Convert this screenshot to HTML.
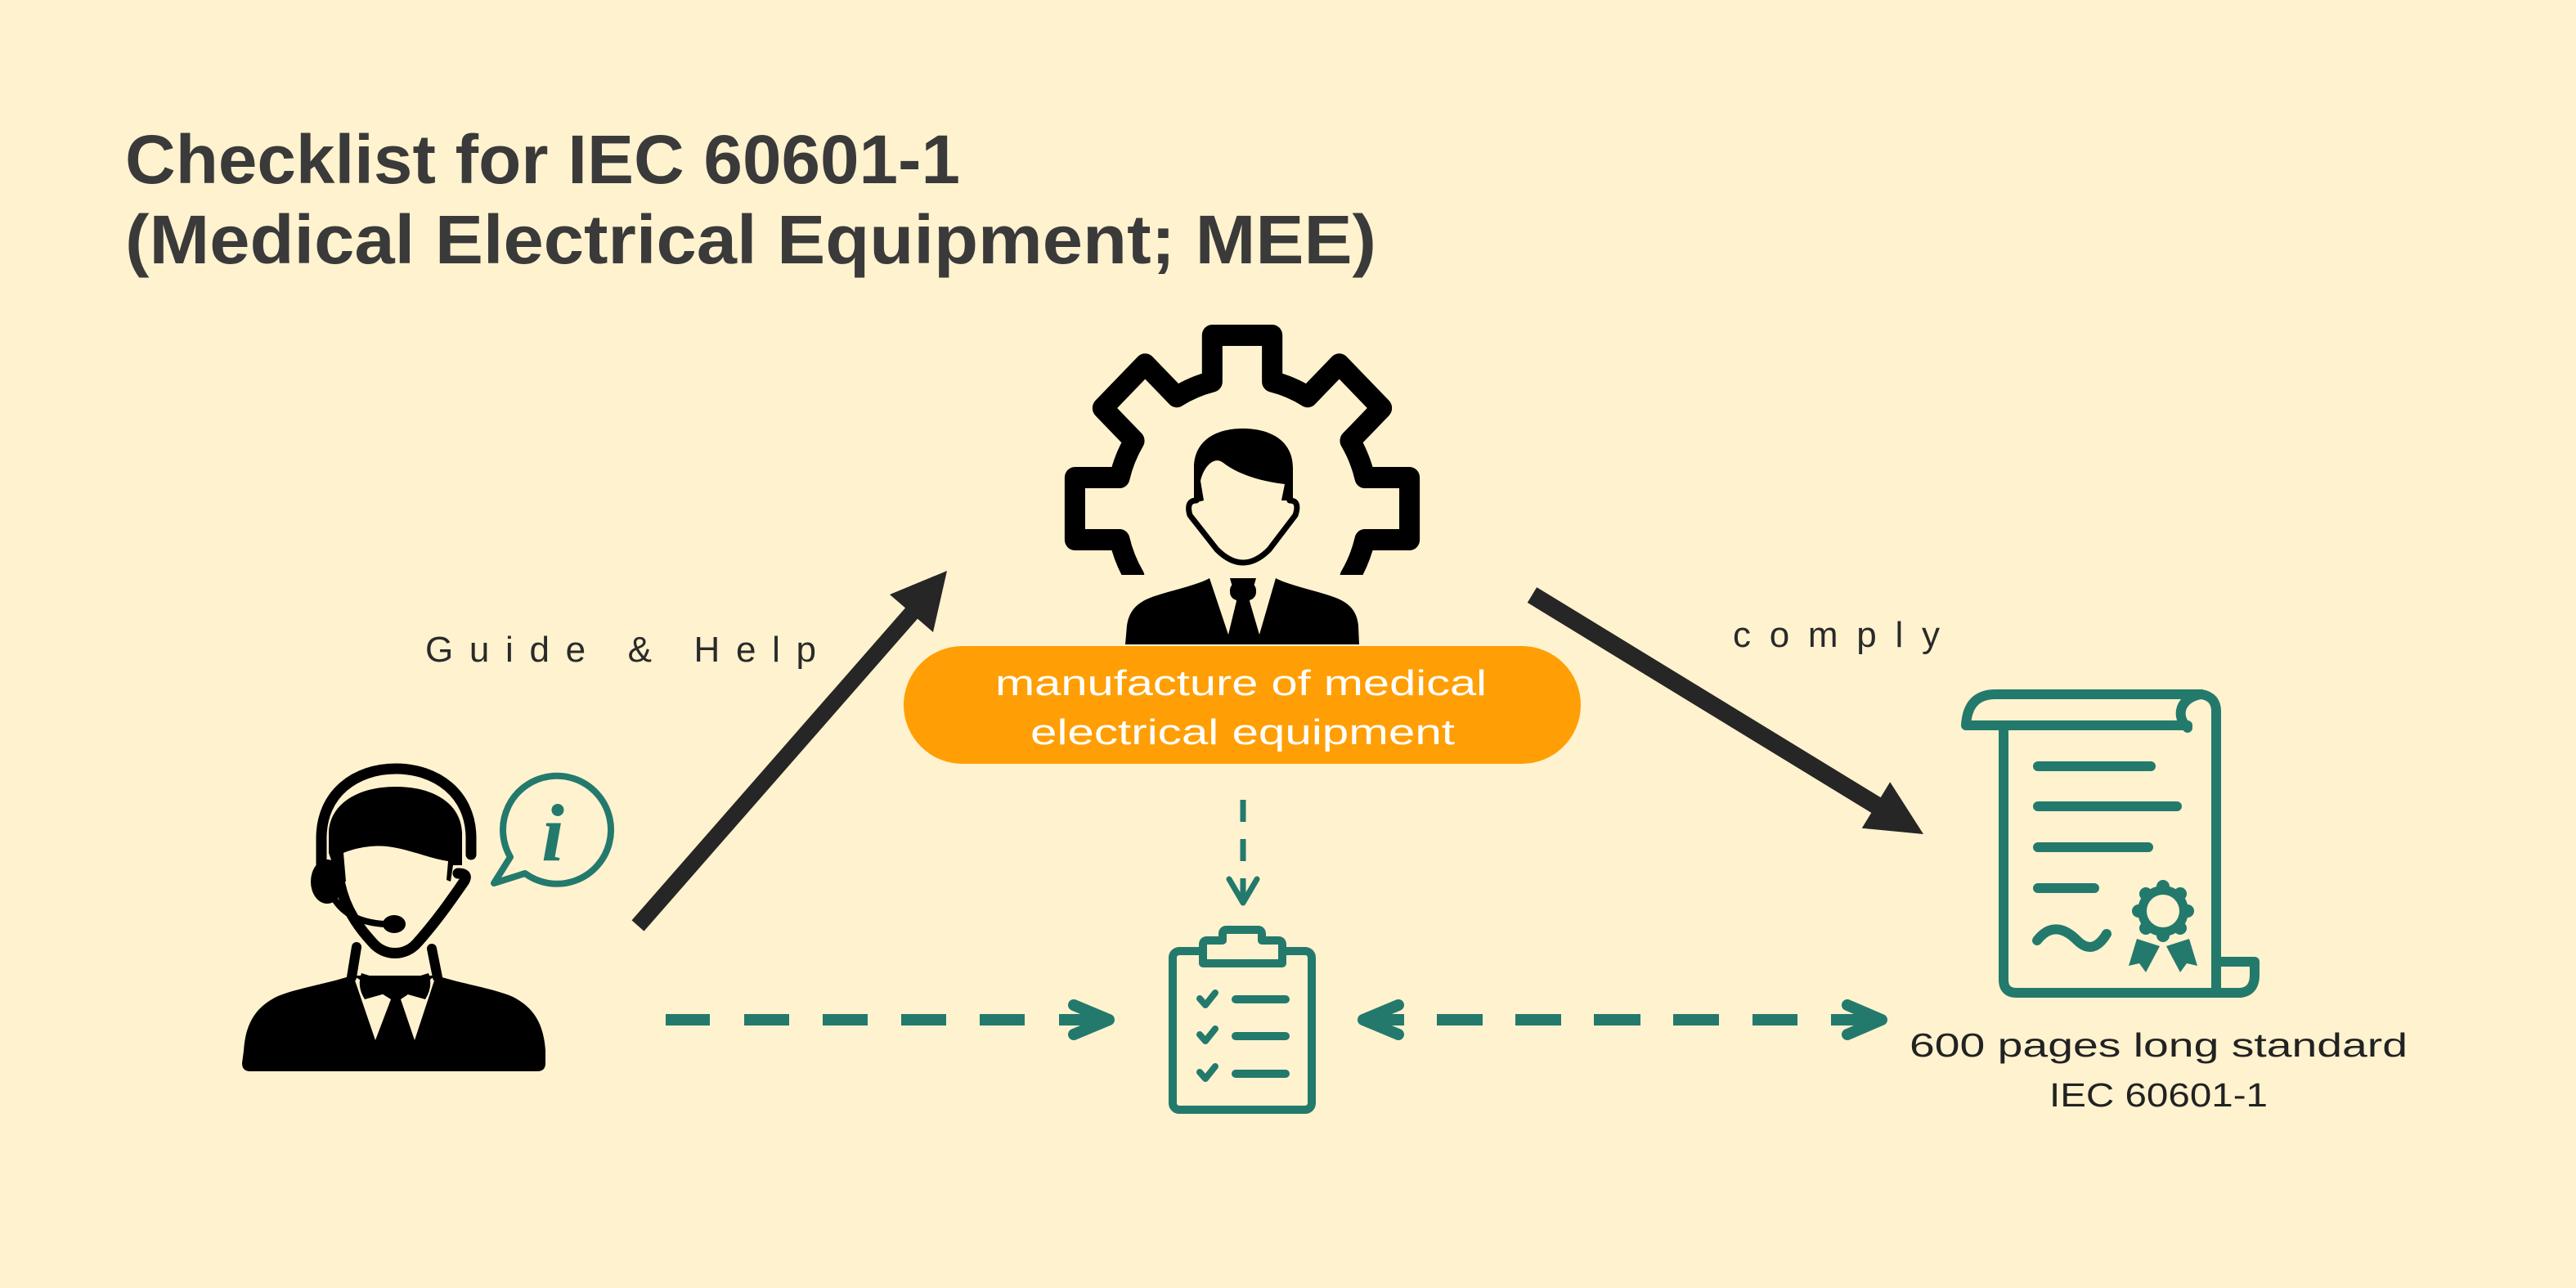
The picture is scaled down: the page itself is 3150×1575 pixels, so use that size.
<!DOCTYPE html>
<html>
<head>
<meta charset="utf-8">
<style>
html,body{margin:0;padding:0;background:#FFF2CF;}
body{width:3150px;height:1575px;overflow:hidden;}
svg{display:block;}
text{font-family:"Liberation Sans",sans-serif;}
</style>
</head>
<body>
<svg width="3150" height="1575" viewBox="0 0 3150 1575" xmlns="http://www.w3.org/2000/svg">
<defs>
<clipPath id="gearclip"><rect x="1200" y="300" width="700" height="403"/></clipPath>
</defs>
<rect x="0" y="0" width="3150" height="1575" fill="#FFF2CF"/>

<!-- Title -->
<text x="153" y="224" font-size="84" font-weight="bold" fill="#3A3A3A" textLength="1021" lengthAdjust="spacingAndGlyphs">Checklist for IEC 60601-1</text>
<text x="153" y="322" font-size="84" font-weight="bold" fill="#3A3A3A" textLength="1530" lengthAdjust="spacingAndGlyphs">(Medical Electrical Equipment; MEE)</text>

<!-- Gear -->
<g clip-path="url(#gearclip)">
<g transform="translate(1519,0) scale(0.965,1) translate(-1519,0)">
<path d="M 1481 466.6 L 1481 410 L 1557 410 L 1557 466.6 A 160 160 0 0 1 1602 485.2 L 1642 445.2 L 1695.8 499 L 1655.8 539 A 160 160 0 0 1 1674.4 584 L 1731 584 L 1731 660 L 1674.4 660 A 160 160 0 0 1 1655.8 705 L 1695.8 745 L 1642 798.8 L 1602 758.8 A 160 160 0 0 1 1557 777.4 L 1557 834 L 1481 834 L 1481 777.4 A 160 160 0 0 1 1436 758.8 L 1396 798.8 L 1342.2 745 L 1382.2 705 A 160 160 0 0 1 1363.6 660 L 1307 660 L 1307 584 L 1363.6 584 A 160 160 0 0 1 1382.2 539 L 1342.2 499 L 1396 445.2 L 1436 485.2 A 160 160 0 0 1 1481 466.6 Z" fill="none" stroke="#000" stroke-width="26" stroke-linejoin="round"/>
</g>
</g>

<!-- Center person -->
<path d="M 1463 612 Q 1450 612 1455 630 L 1488 672 Q 1520 704 1552 672 L 1584 630 Q 1590 612 1577 612" fill="none" stroke="#000" stroke-width="7" stroke-linejoin="round" stroke-linecap="round"/>
<path d="M 1460 615 L 1460 572 C 1460 540 1485 524 1520 524 C 1555 524 1581 540 1581 572 L 1581 612 L 1567 612 L 1571 592 C 1545 589 1515 581 1496 566 C 1485 557 1472 570 1468 588 L 1472 612 Z" fill="#000"/>
<path d="M 1376 788 L 1378 765 C 1381 745 1392 735 1415 728 C 1440 720 1465 715 1479 707 L 1560 707 C 1575 715 1600 720 1625 728 C 1648 735 1659 745 1661 765 L 1662 788 Z" fill="#000"/>
<polygon points="1479,707 1504,707 1512,735 1502,776" fill="#FFF2CF"/>
<polygon points="1560,707 1536,707 1528,735 1540,776" fill="#FFF2CF"/>
<rect x="1504" y="712" width="32" height="22" rx="10" fill="#000"/>

<!-- Orange pill -->
<rect x="1105" y="790" width="828" height="144" rx="72" fill="#FF9F05"/>
<text x="1217" y="850" font-size="44" fill="#FFFFFF" textLength="601" lengthAdjust="spacingAndGlyphs">manufacture of medical</text>
<text x="1260" y="910" font-size="44" fill="#FFFFFF" textLength="519" lengthAdjust="spacingAndGlyphs">electrical equipment</text>

<!-- Labels -->
<text x="520" y="809" font-size="44" fill="#2A2A2A" textLength="478" lengthAdjust="spacing">Guide &amp; Help</text>
<text x="2119" y="791" font-size="44" fill="#2A2A2A" textLength="253" lengthAdjust="spacing">comply</text>

<!-- Black arrows -->
<polygon points="772.5,1125.4 1107,743.4 1088,727 1158,698 1141,773 1122,756.6 787.5,1138.6" fill="#262626"/>
<polygon points="1879.2,718.1 2299.7,975.1 2311.2,956.3 2352,1020 2276.8,1012.7 2288.3,993.9 1867.8,736.9" fill="#262626"/>

<!-- Left person (support) -->
<path d="M 306 1310 Q 296 1310 296 1300 L 298 1285 C 300 1255 310 1232 340 1218 C 365 1208 400 1203 430 1193 L 534 1193 C 565 1203 600 1208 625 1218 C 655 1232 665 1255 667 1285 L 667 1300 Q 667 1310 657 1310 Z" fill="#000"/>
<polygon points="432,1193 478,1222 459,1272" fill="#FFF2CF"/>
<polygon points="533,1193 490,1222 507,1272" fill="#FFF2CF"/>
<path d="M 442 1190 L 480 1202 L 478 1213 L 446 1222 Q 436 1206 442 1190 Z" fill="#000"/>
<path d="M 524 1190 L 486 1202 L 488 1213 L 520 1222 Q 530 1206 524 1190 Z" fill="#000"/>
<circle cx="483" cy="1207" r="8" fill="#000"/>
<path d="M 436 1158 L 430 1195" stroke="#000" stroke-width="12" stroke-linecap="round"/>
<path d="M 528 1160 L 535 1195" stroke="#000" stroke-width="12" stroke-linecap="round"/>
<path d="M 414 1070 C 418 1100 430 1125 455 1152 C 470 1170 496 1170 511 1152 C 535 1125 552 1100 566 1080 Q 575 1068 560 1068" fill="none" stroke="#000" stroke-width="13" stroke-linecap="round" stroke-linejoin="round"/>
<path d="M 402 1043 L 402 1020 C 402 985 435 962 484 962 C 533 962 565 985 565 1020 L 565 1058 L 554 1058 L 551 1078 L 546 1076 L 548 1053 C 525 1050 500 1038 473 1035 C 452 1033 432 1038 420 1043 L 423 1078 L 414 1078 L 408 1060 Z" fill="#000"/>
<path d="M 393 1062 L 393 1025 C 393 970 435 940 484 940 C 533 940 576 970 576 1025 L 576 1045" fill="none" stroke="#000" stroke-width="13" stroke-linecap="round"/>
<ellipse cx="400" cy="1078" rx="20" ry="27" fill="#000"/>
<path d="M 408 1098 C 420 1118 440 1128 470 1130" fill="none" stroke="#000" stroke-width="8" stroke-linecap="round"/>
<ellipse cx="482" cy="1130" rx="14" ry="11" fill="#000"/>

<!-- Info bubble -->
<path d="M 624 1048 A 66 66 0 1 1 642 1068 L 604 1080 Z" fill="none" stroke="#237A6C" stroke-width="8" stroke-linejoin="round"/>
<text x="676" y="1052" font-family="Liberation Serif, serif" font-size="100" font-weight="bold" font-style="italic" fill="#237A6C" text-anchor="middle" style="font-family:'Liberation Serif',serif">i</text>

<!-- Dashed arrow left -> checklist -->
<g stroke="#237A6C" stroke-width="14" fill="none">
<line x1="814" y1="1247" x2="868" y2="1247"/>
<line x1="910" y1="1247" x2="965" y2="1247"/>
<line x1="1006" y1="1247" x2="1061" y2="1247"/>
<line x1="1102" y1="1247" x2="1157" y2="1247"/>
<line x1="1198" y1="1247" x2="1253" y2="1247"/>
<line x1="1295" y1="1247" x2="1352" y2="1247"/>
<polyline points="1313,1229 1356,1247 1313,1265" stroke-linecap="round" stroke-linejoin="round"/>
</g>

<!-- Double dashed arrow -->
<g stroke="#237A6C" stroke-width="14" fill="none">
<line x1="1672" y1="1247" x2="1717" y2="1247"/>
<line x1="1757" y1="1247" x2="1813" y2="1247"/>
<line x1="1853" y1="1247" x2="1909" y2="1247"/>
<line x1="1949" y1="1247" x2="2006" y2="1247"/>
<line x1="2046" y1="1247" x2="2102" y2="1247"/>
<line x1="2143" y1="1247" x2="2198" y2="1247"/>
<line x1="2239" y1="1247" x2="2297" y2="1247"/>
<polyline points="1710,1229 1667,1247 1710,1265" stroke-linecap="round" stroke-linejoin="round"/>
<polyline points="2259,1229 2301,1247 2259,1265" stroke-linecap="round" stroke-linejoin="round"/>
</g>

<!-- Vertical dashed arrow -->
<g stroke="#237A6C" stroke-width="7" fill="none">
<line x1="1520" y1="978" x2="1520" y2="1005"/>
<line x1="1520" y1="1026" x2="1520" y2="1053"/>
<line x1="1520" y1="1074" x2="1520" y2="1103"/>
<polyline points="1503,1075 1520,1104 1537,1075" stroke-linecap="round" stroke-linejoin="round"/>
</g>

<!-- Clipboard -->
<g stroke="#237A6C" fill="none" stroke-linecap="round" stroke-linejoin="round">
<rect x="1434" y="1163" width="170" height="194" rx="8" stroke-width="10"/>
<path d="M 1471 1178 L 1471 1155 Q 1471 1150 1476 1150 L 1495 1150 L 1495 1142 Q 1495 1137 1500 1137 L 1538 1137 Q 1543 1137 1543 1142 L 1543 1150 L 1563 1150 Q 1568 1150 1568 1155 L 1568 1178 Z" fill="#FFF2CF" stroke-width="10"/>
<polyline points="1467,1221 1474,1229 1486,1214" stroke-width="8"/>
<polyline points="1467,1265 1474,1273 1486,1258" stroke-width="8"/>
<polyline points="1467,1311 1474,1319 1486,1304" stroke-width="8"/>
<line x1="1511" y1="1222" x2="1572" y2="1222" stroke-width="10"/>
<line x1="1511" y1="1267" x2="1572" y2="1267" stroke-width="10"/>
<line x1="1511" y1="1313" x2="1572" y2="1313" stroke-width="10"/>
</g>

<!-- Document / certificate scroll -->
<g stroke="#237A6C" fill="none" stroke-width="12" stroke-linecap="round" stroke-linejoin="round">
<path d="M 2675 887 L 2404 887 Q 2406 849 2440 849 L 2692 849 Q 2710 852 2710 870 L 2710 1176"/>
<path d="M 2692 849 C 2665 853 2660 876 2675 890"/>
<path d="M 2450 890 L 2450 1198 Q 2450 1214 2466 1214 L 2740 1214 Q 2757 1212 2757 1192 L 2757 1176 L 2710 1176 L 2710 1214"/>
<line x1="2492" y1="937" x2="2630" y2="937"/>
<line x1="2492" y1="986" x2="2662" y2="986"/>
<line x1="2492" y1="1036" x2="2627" y2="1036"/>
<line x1="2492" y1="1086" x2="2561" y2="1086"/>
<path d="M 2491 1150 C 2508 1128 2526 1136 2540 1150 C 2553 1163 2565 1160 2576 1142"/>
</g>
<g fill="#237A6C">
<circle cx="2645" cy="1114" r="31"/>
<circle cx="2645" cy="1084" r="8"/>
<circle cx="2666" cy="1093" r="8"/>
<circle cx="2675" cy="1114" r="8"/>
<circle cx="2666" cy="1135" r="8"/>
<circle cx="2645" cy="1144" r="8"/>
<circle cx="2624" cy="1135" r="8"/>
<circle cx="2615" cy="1114" r="8"/>
<circle cx="2624" cy="1093" r="8"/>
<polygon points="2613,1148 2641,1157 2624,1189 2616,1178 2603,1181"/>
<polygon points="2677,1148 2649,1157 2666,1189 2674,1178 2687,1181"/>
</g>
<circle cx="2645" cy="1114" r="20" fill="#FFF2CF"/>

<!-- Doc label -->
<text x="2335" y="1292" font-size="41" fill="#222" textLength="609" lengthAdjust="spacingAndGlyphs">600 pages long standard</text>
<text x="2506" y="1353" font-size="41" fill="#222" textLength="267" lengthAdjust="spacingAndGlyphs">IEC 60601-1</text>
</svg>
</body>
</html>
